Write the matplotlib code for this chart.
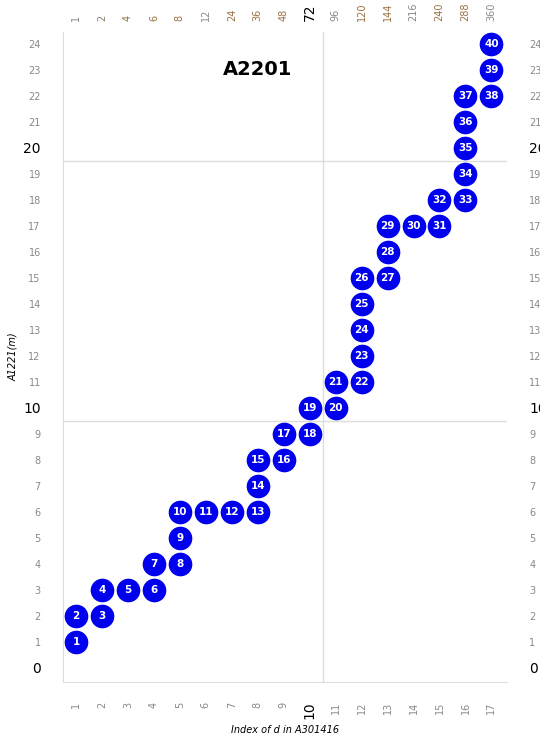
import matplotlib
matplotlib.use('Agg')
import matplotlib.pyplot as plt

# 点的位置（x = d 的序号, y = 值）
xs = [1, 1, 2, 2, 3, 4, 4, 5, 5, 5, 6, 7, 8, 8, 8, 9, 9, 10, 10, 11,
      11, 12, 12, 12, 12, 12, 13, 13, 13, 14, 15, 15, 16, 16, 16, 16, 16, 17, 17, 17]
ys = [1, 2, 2, 3, 3, 3, 4, 4, 5, 6, 6, 6, 6, 7, 8, 8, 9, 9, 10, 10,
      11, 11, 12, 13, 14, 15, 15, 16, 17, 17, 17, 18, 18, 19, 20, 21, 22, 22, 23, 24]
d_labels = ['1', '2', '4', '6', '8', '12', '24', '36', '48', '72', '96', '120',
            '144', '216', '240', '288', '360']
top_colors = ['#888888', '#8a7a6a', '#9a7040', '#9a7040', '#9a7040', '#888888', '#9a7040',
              '#9a7040', '#9a7040', '#000000', '#888888', '#9a7040', '#9a7040', '#888888',
              '#9a7040', '#9a7040', '#888888']

fig = plt.figure(figsize=(5.4, 7.39), dpi=100)
ax = fig.add_axes([63/540, 1 - 682/739, 444/540, 650/739])
ax.set_xlim(0.5, 17.6)
ax.set_ylim(-0.55, 24.46)

ax.axvline(10.5, color='#dddddd', lw=1, zorder=0)
for yl in (9.5, 19.5):
    ax.axhline(yl, color='#dddddd', lw=1, zorder=0)

ax.scatter(xs, ys, s=290, color='#0000ee', zorder=3, linewidths=0)
for i, (x, y) in enumerate(zip(xs, ys)):
    ax.text(x, y, str(i + 1), color='white', fontsize=7.5, fontweight='bold',
            ha='center', va='center', zorder=4)

for s in ('top', 'right'):
    ax.spines[s].set_visible(False)
for s in ('left', 'bottom'):
    ax.spines[s].set_color('#dddddd')

ax.set_xticks(range(1, 18))
ax.set_xticklabels([str(i) for i in range(1, 18)], rotation=90, fontsize=7, color='#888888')
ax.set_yticks(range(0, 25))
ax.set_yticklabels([str(i) for i in range(25)], fontsize=7, color='#888888')
ax.tick_params(length=0, pad=14)
ax.tick_params(axis='y', pad=16, labelright=True, right=False)
for lab in ax.get_xticklabels():
    if lab.get_text() == '10':
        lab.set_color('black'); lab.set_fontsize(10)

for t, v in zip(ax.yaxis.get_major_ticks(), range(25)):
    big = v in (0, 10, 20)
    for lab in (t.label1, t.label2):
        lab.set_color('black' if big else '#888888')
        lab.set_fontsize(10 if big else 7)

top = ax.secondary_xaxis('top')
top.set_xticks(range(1, 18))
top.set_xticklabels(d_labels, rotation=90, fontsize=7)
top.tick_params(length=0, pad=8)
top.spines['top'].set_visible(False)
for lab, c in zip(top.get_xticklabels(), top_colors):
    lab.set_color(c)
    if lab.get_text() == '72':
        lab.set_fontsize(10)
top.set_xlabel('d', fontsize=7, style='italic', labelpad=2)

ax.set_xlabel('Index of d in A301416', fontsize=7, style='italic', labelpad=4)
ax.set_ylabel('A1221(m)', fontsize=7, style='italic', labelpad=4)
ax.text(8, 23, 'A2201', fontsize=14, fontweight='bold', ha='center', va='center')

fig.savefig('out.png', dpi=100)
